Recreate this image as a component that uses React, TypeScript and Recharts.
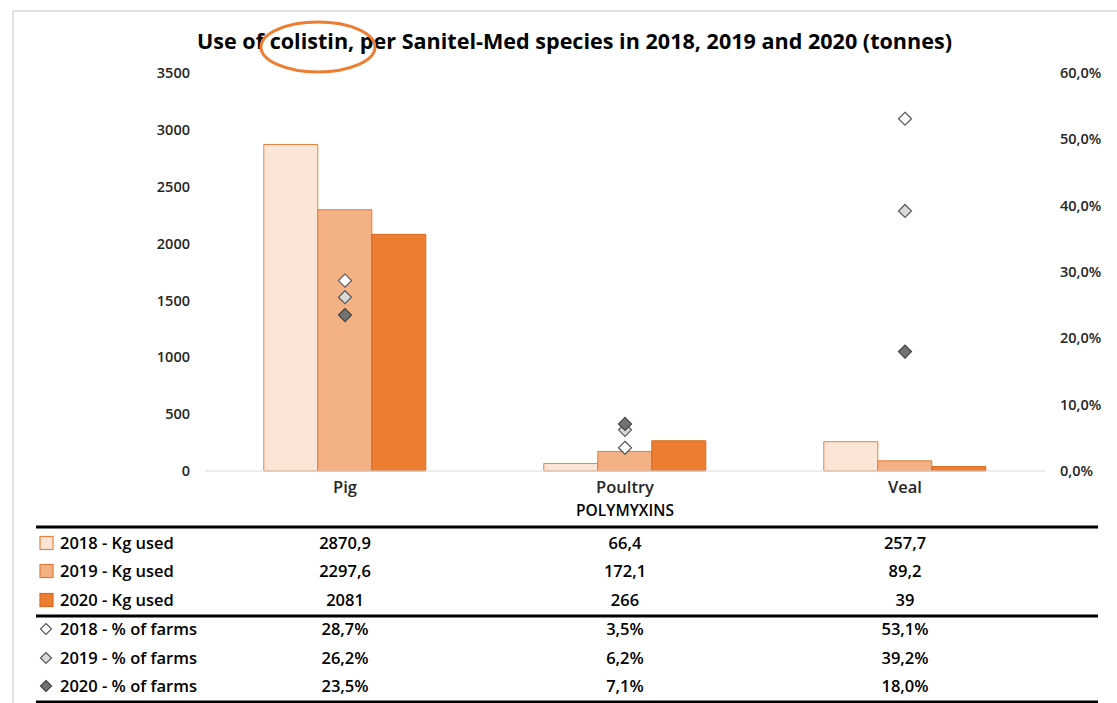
import React from "react";
import { ComposedChart, Bar, Line, XAxis, YAxis } from "recharts";

const categories = ["Pig", "Poultry", "Veal"];
const kg2018 = [2870.9, 66.4, 257.7];
const kg2019 = [2297.6, 172.1, 89.2];
const kg2020 = [2081, 266, 39];
const pct2018 = [28.7, 3.5, 53.1];
const pct2019 = [26.2, 6.2, 39.2];
const pct2020 = [23.5, 7.1, 18.0];
const leftTicks = [0, 500, 1000, 1500, 2000, 2500, 3000, 3500];
const rightTicks = [0, 10, 20, 30, 40, 50, 60];

const data = categories.map((c, i) => ({
  cat: c,
  k18: kg2018[i],
  k19: kg2019[i],
  k20: kg2020[i],
  p18: pct2018[i],
  p19: pct2019[i],
  p20: pct2020[i],
}));

const FONT = "'Open Sans', 'Noto Sans', sans-serif";
const bar18 = { fill: "#fbe5d6", stroke: "#e8823e" };
const bar19 = { fill: "#f4b183", stroke: "#e07b39" };
const bar20 = { fill: "#ed7d31", stroke: "#d86a22" };
const dia18 = { fill: "#ffffff", stroke: "#595959" };
const dia19 = { fill: "#d9d9d9", stroke: "#595959" };
const dia20 = { fill: "#737373", stroke: "#404040" };

const fmtKg = (v: number) => String(v).replace(".", ",");
const fmtPct = (v: number) => v.toFixed(1).replace(".", ",") + "%";

const diamond = (style: { fill: string; stroke: string }) => (p: any) => {
  const { cx, cy, key } = p;
  if (cx == null || cy == null) return <g key={key} />;
  const r = 6.5;
  return (
    <path
      key={key}
      d={`M${cx},${cy - r}L${cx + r},${cy}L${cx},${cy + r}L${cx - r},${cy}Z`}
      fill={style.fill}
      stroke={style.stroke}
      strokeWidth={1.2}
    />
  );
};

const colX = [345, 625, 905];

const rows = [
  { label: "2018 - Kg used", vals: kg2018.map(fmtKg), mark: "sq", st: bar18 },
  { label: "2019 - Kg used", vals: kg2019.map(fmtKg), mark: "sq", st: bar19 },
  { label: "2020 - Kg used", vals: kg2020.map(fmtKg), mark: "sq", st: bar20 },
  { label: "2018 - % of farms", vals: pct2018.map(fmtPct), mark: "dia", st: dia18 },
  { label: "2019 - % of farms", vals: pct2019.map(fmtPct), mark: "dia", st: dia19 },
  { label: "2020 - % of farms", vals: pct2020.map(fmtPct), mark: "dia", st: dia20 },
];
const rowY = [543, 571, 600, 629, 658, 686];

export default function App() {
  const tickStyle = { fontFamily: FONT, fontSize: 14.5, fontWeight: 600, fill: "#262626" };
  return (
    <div style={{ position: "absolute", left: 0, top: 0, width: 1117, height: 703, background: "#fff", overflow: "hidden" }}>
      <ComposedChart
        width={1117}
        height={501}
        data={data}
        margin={{ top: 73, right: 12, bottom: 0, left: 145 }}
        barCategoryGap="21%"
        barGap={0}
      >
        <XAxis
          dataKey="cat"
          height={30}
          tickLine={false}
          tickMargin={4}
          axisLine={{ stroke: "#d9d9d9" }}
          tick={{ fontFamily: FONT, fontSize: 16.5, fontWeight: 600, fill: "#262626" }}
        />
        <YAxis
          yAxisId="left"
          width={60}
          domain={[0, 3500]}
          ticks={leftTicks}
          axisLine={false}
          tickLine={false}
          tickMargin={9}
          tick={tickStyle}
        />
        <YAxis
          yAxisId="right"
          orientation="right"
          width={60}
          domain={[0, 60]}
          ticks={rightTicks}
          axisLine={false}
          tickLine={false}
          tickMargin={9}
          tickFormatter={(v: number) => fmtPct(v)}
          tick={{ ...tickStyle, textAnchor: "start" }}
        />
        <Bar yAxisId="left" dataKey="k18" fill={bar18.fill} stroke={bar18.stroke} strokeWidth={1} isAnimationActive={false} />
        <Bar yAxisId="left" dataKey="k19" fill={bar19.fill} stroke={bar19.stroke} strokeWidth={1} isAnimationActive={false} />
        <Bar yAxisId="left" dataKey="k20" fill={bar20.fill} stroke={bar20.stroke} strokeWidth={1} isAnimationActive={false} />
        <Line yAxisId="right" dataKey="p18" stroke="none" dot={diamond(dia18)} activeDot={false} isAnimationActive={false} />
        <Line yAxisId="right" dataKey="p19" stroke="none" dot={diamond(dia19)} activeDot={false} isAnimationActive={false} />
        <Line yAxisId="right" dataKey="p20" stroke="none" dot={diamond(dia20)} activeDot={false} isAnimationActive={false} />
      </ComposedChart>

      <svg width={1117} height={703} style={{ position: "absolute", left: 0, top: 0, pointerEvents: "none" }}>
        <line x1={13} y1={11} x2={1117} y2={11} stroke="#d9d9d9" strokeWidth={1.5} />
        <line x1={13} y1={11} x2={13} y2={703} stroke="#d9d9d9" strokeWidth={1.5} />
        <text
          x={197}
          y={49}
          textLength={755}
          lengthAdjust="spacingAndGlyphs"
          fontFamily={FONT}
          fontSize={20.5}
          fontWeight={700}
          fill="#000"
        >
          Use of colistin, per Sanitel-Med species in 2018, 2019 and 2020 (tonnes)
        </text>
        <ellipse cx={318} cy={47} rx={57} ry={25} fill="none" stroke="#ed7d31" strokeWidth={3} />

        <text x={625} y={516} textAnchor="middle" fontFamily={FONT} fontSize={15.5} fontWeight={600} fill="#000">
          POLYMYXINS
        </text>
        <line x1={36} y1={527} x2={1098} y2={527} stroke="#000" strokeWidth={3} />
        <line x1={36} y1={616} x2={1098} y2={616} stroke="#000" strokeWidth={3} />
        <line x1={36} y1={702} x2={1098} y2={702} stroke="#000" strokeWidth={3} />
        {rows.map((r, i) => {
          const y = rowY[i];
          return (
            <g key={r.label}>
              {r.mark === "sq" ? (
                <rect x={40} y={y - 6.5} width={13} height={13} fill={r.st.fill} stroke={r.st.stroke} strokeWidth={1.2} />
              ) : (
                <path
                  d={`M46,${y - 5.5}L51.5,${y}L46,${y + 5.5}L40.5,${y}Z`}
                  fill={r.st.fill}
                  stroke={r.st.stroke}
                  strokeWidth={1.2}
                />
              )}
              <text x={60} y={y + 6} fontFamily={FONT} fontSize={16.5} fontWeight={600} fill="#000">
                {r.label}
              </text>
              {r.vals.map((v, j) => (
                <text key={j} x={colX[j]} y={y + 6} textAnchor="middle" fontFamily={FONT} fontSize={16.5} fontWeight={600} fill="#000">
                  {v}
                </text>
              ))}
            </g>
          );
        })}
      </svg>
    </div>
  );
}
